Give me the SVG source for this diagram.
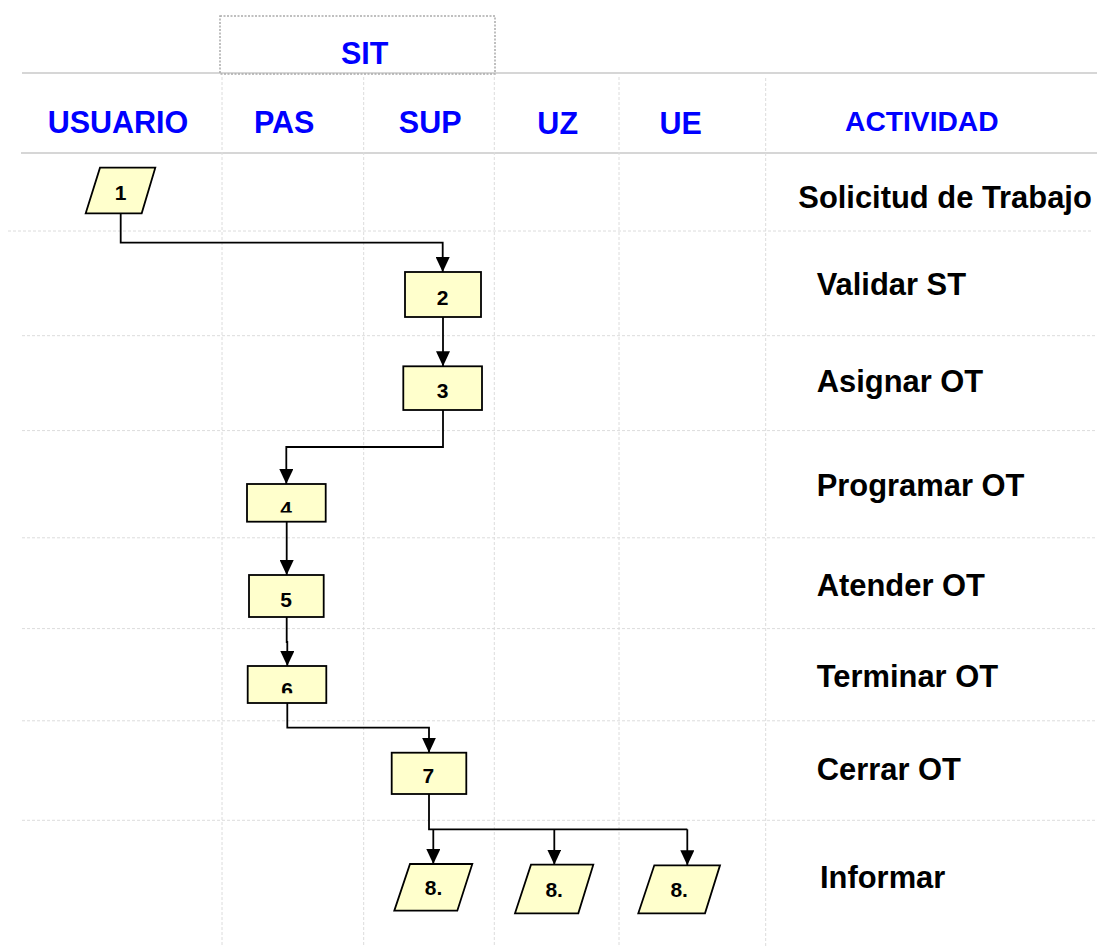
<svg xmlns="http://www.w3.org/2000/svg" width="1097" height="947" viewBox="0 0 1097 947">
<style>
.hdr{font-family:"Liberation Sans",Arial,sans-serif;font-weight:bold;fill:#0000FF;font-size:30.5px;text-anchor:middle}
.act{font-family:"Liberation Sans",Arial,sans-serif;font-weight:bold;fill:#000;font-size:30.9px}
.num{font-family:"Liberation Sans",Arial,sans-serif;font-weight:bold;fill:#000;font-size:21px;text-anchor:middle}
.shape{fill:#FFFFCC;stroke:#000;stroke-width:1.8}
.solid{stroke:#c8c8c8;stroke-width:1.5;fill:none}
.grid{stroke:#dcdcdc;stroke-width:1;stroke-dasharray:3,2;fill:none}
.conn{stroke:#000;stroke-width:1.8;fill:none}
</style>
<defs>
<marker id="arr" markerUnits="userSpaceOnUse" markerWidth="15" markerHeight="14" refX="15" refY="7" orient="auto">
<path d="M0,0 L15,7 L0,14 Z" fill="#000"/>
</marker>
<clipPath id="clip4"><rect x="240" y="480" width="90" height="32.5"/></clipPath>
<clipPath id="clip6"><rect x="240" y="660" width="90" height="33.3"/></clipPath>
</defs>
<rect width="1097" height="947" fill="#fff"/>
<g id="grid">
<line class="solid" x1="22" y1="73" x2="1097" y2="73"/>
<line class="solid" x1="21" y1="153" x2="1097" y2="153"/>
<line class="grid" x1="8" y1="231" x2="1093" y2="231"/>
<line class="grid" x1="22" y1="335.7" x2="1097" y2="335.7"/>
<line class="grid" x1="22" y1="430.6" x2="1097" y2="430.6"/>
<line class="grid" x1="22" y1="537.8" x2="1097" y2="537.8"/>
<line class="grid" x1="22" y1="628.6" x2="1097" y2="628.6"/>
<line class="grid" x1="22" y1="720.8" x2="1097" y2="720.8"/>
<line class="grid" x1="22" y1="820.3" x2="1097" y2="820.3"/>
<line class="grid" x1="222" y1="77" x2="222" y2="947"/>
<line class="grid" x1="363.7" y1="77" x2="363.7" y2="947"/>
<line class="grid" x1="494.3" y1="77" x2="494.3" y2="947"/>
<line class="grid" x1="619" y1="77" x2="619" y2="947"/>
<line class="grid" x1="765.7" y1="78" x2="765.7" y2="947"/>
<rect x="220" y="16" width="275" height="58" fill="none" stroke="#aaa" stroke-width="1.5" stroke-dasharray="2,1.5"/>
</g>
<g id="headers">
<text class="hdr" x="364.7" y="64">SIT</text>
<text class="hdr" x="118" y="133.3">USUARIO</text>
<text class="hdr" x="284.2" y="133.3">PAS</text>
<text class="hdr" x="430.2" y="133.3">SUP</text>
<text class="hdr" x="557.7" y="134.3">UZ</text>
<text class="hdr" x="680.7" y="134.3">UE</text>
<text class="hdr" x="921.8" y="131" style="font-size:28.2px">ACTIVIDAD</text>
</g>
<g id="activities">
<text class="act" x="798.3" y="208.3">Solicitud de Trabajo</text>
<text class="act" x="816.7" y="295">Validar ST</text>
<text class="act" x="816.7" y="391.7">Asignar OT</text>
<text class="act" x="816.7" y="496">Programar OT</text>
<text class="act" x="816.7" y="595.7">Atender OT</text>
<text class="act" x="816.7" y="686.7">Terminar OT</text>
<text class="act" x="816.7" y="780">Cerrar OT</text>
<text class="act" x="820" y="887.7">Informar</text>
</g>
<g id="connectors">
<path class="conn" d="M120.7,213.3 V242.7 H442.7 V272" marker-end="url(#arr)"/>
<path class="conn" d="M443,317 V366.3" marker-end="url(#arr)"/>
<path class="conn" d="M443,410 V447 H286.3 V484" marker-end="url(#arr)"/>
<path class="conn" d="M286.7,521.7 V575" marker-end="url(#arr)"/>
<path class="conn" d="M286.7,617 V642 H287.3 V666" marker-end="url(#arr)"/>
<path class="conn" d="M287.3,703 V727.7 H429 V752.7" marker-end="url(#arr)"/>
<path class="conn" d="M429,794 V829.3 H687.3"/>
<path class="conn" d="M433.3,829.3 V864" marker-end="url(#arr)"/>
<path class="conn" d="M554.3,829.3 V864.7" marker-end="url(#arr)"/>
<path class="conn" d="M687.3,829.3 V865.3" marker-end="url(#arr)"/>
</g>
<g id="node1">
<polygon class="shape" points="100,167.7 155.3,167.7 141.7,213.3 85.7,213.3"/>
<text class="num" x="120.7" y="200">1</text>
</g>
<g id="node2">
<rect class="shape" x="405" y="272" width="76" height="45"/>
<text class="num" x="442.7" y="305">2</text>
</g>
<g id="node3">
<rect class="shape" x="403.3" y="366.3" width="78.7" height="43.7"/>
<text class="num" x="442.7" y="398.3">3</text>
</g>
<g id="node4">
<rect class="shape" x="247" y="484" width="78.7" height="37.7"/>
<text class="num" x="286" y="515.5" clip-path="url(#clip4)">4</text>
</g>
<g id="node5">
<rect class="shape" x="249" y="575" width="74.7" height="42"/>
<text class="num" x="286" y="607.3">5</text>
</g>
<g id="node6">
<rect class="shape" x="247.7" y="666" width="78.6" height="37"/>
<text class="num" x="287" y="697" clip-path="url(#clip6)">6</text>
</g>
<g id="node7">
<rect class="shape" x="391.7" y="752.7" width="74.6" height="41.3"/>
<text class="num" x="428.3" y="783.3">7</text>
</g>
<g id="node8a">
<polygon class="shape" points="410,864 472.3,864 457.3,910.7 394.3,910.7"/>
<text class="num" x="433.5" y="895.3">8.</text>
</g>
<g id="node8b">
<polygon class="shape" points="531,864.7 593.3,864.7 578.3,913.3 515,913.3"/>
<text class="num" x="554.2" y="896.7">8.</text>
</g>
<g id="node8c">
<polygon class="shape" points="654.3,865.3 720,865.3 705,913.3 638.3,913.3"/>
<text class="num" x="679.2" y="896.7">8.</text>
</g>
</svg>
